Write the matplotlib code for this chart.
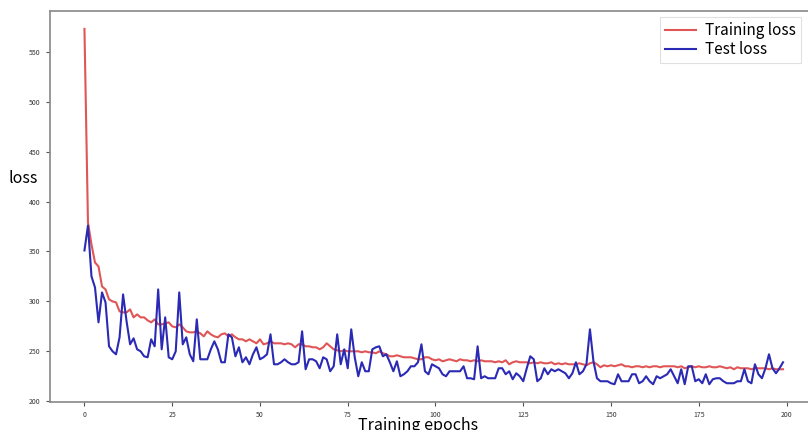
# -*- coding: utf-8 -*-
"""
Training / test loss over epochs
"""

import numpy as np
import matplotlib
matplotlib.use("Agg")
import matplotlib.pyplot as plt

plt.rcParams['font.family'] = ['Noto Sans CJK SC', 'DejaVu Sans']

epochs = np.arange(200)

train_loss = [
    573, 379, 357, 339, 335, 315, 312, 302, 300, 299,
    290, 289, 289, 292, 284, 287, 284, 284, 281, 279,
    282, 277, 277, 278, 279, 275, 274, 277, 274, 270,
    269, 269, 270, 268, 265, 270, 267, 265, 264, 267,
    268, 265, 267, 264, 262, 262, 260, 262, 260, 258,
    262, 257, 258, 260, 258, 258, 258, 257, 258, 257,
    254, 257, 257, 255, 255, 254, 254, 252, 254, 258,
    255, 252, 251, 250, 251, 250, 250, 250, 250, 249,
    250, 249, 249, 248, 250, 248, 247, 245, 245, 246,
    245, 244, 244, 244, 243, 242, 242, 244, 244, 242,
    241, 242, 240, 241, 242, 241, 240, 242, 241, 241,
    240, 241, 240, 241, 240, 240, 240, 239, 240, 239,
    241, 237, 239, 240, 239, 239, 239, 238, 239, 238,
    239, 238, 238, 239, 237, 238, 237, 238, 237, 237,
    237, 238, 237, 236, 238, 239, 237, 234, 236, 235,
    236, 235, 236, 237, 235, 235, 234, 235, 235, 234,
    235, 234, 235, 235, 234, 235, 235, 235, 235, 234,
    235, 233, 234, 235, 234, 235, 234, 234, 235, 234,
    234, 235, 234, 233, 234, 232, 234, 233, 233, 233,
    232, 233, 233, 233, 233, 232, 233, 232, 232, 232,
]

test_loss = [
    351, 376, 325, 314, 279, 309, 299, 255, 250, 247,
    264, 307, 280, 257, 263, 252, 250, 245, 244, 262,
    255, 312, 252, 284, 244, 242, 250, 309, 257, 264,
    247, 240, 282, 242, 242, 242, 252, 260, 252, 239,
    239, 267, 264, 245, 254, 239, 244, 237, 247, 254,
    242, 244, 247, 267, 237, 237, 239, 242, 239, 237,
    237, 239, 270, 232, 242, 242, 240, 233, 244, 242,
    230, 235, 267, 237, 252, 233, 272, 244, 225, 239,
    230, 230, 252, 254, 255, 245, 247, 239, 230, 240,
    225, 227, 230, 235, 235, 239, 257, 230, 227, 237,
    235, 233, 227, 225, 230, 230, 230, 230, 235, 223,
    223, 222, 255, 223, 225, 223, 223, 223, 233, 233,
    227, 230, 222, 228, 225, 220, 233, 245, 242, 220,
    223, 233, 227, 232, 230, 232, 230, 228, 223, 228,
    239, 227, 230, 237, 272, 240, 223, 220, 220, 220,
    218, 217, 227, 220, 220, 220, 227, 227, 218, 220,
    225, 220, 217, 225, 223, 225, 227, 232, 225, 218,
    232, 217, 235, 235, 220, 222, 218, 227, 217, 222,
    223, 223, 220, 218, 218, 218, 220, 220, 232, 220,
    218, 237, 227, 223, 233, 247, 233, 228, 233, 239,
]

fig = plt.figure(figsize=(8.08, 4.3), dpi=100)
ax = fig.add_axes([0.0613, 0.0651, 0.951, 0.909])

ax.plot(epochs, train_loss, color='#e05555', lw=1.5, label='Training loss')
ax.plot(epochs, test_loss, color='#2a2ab5', lw=1.5, label='Test loss')

ax.set_xticks([0, 25, 50, 75, 100, 125, 150, 175, 200])
ax.set_yticks([200, 250, 300, 350, 400, 450, 500, 550])
ax.tick_params(labelsize=5, length=3, width=0.8, colors='#555555',
               labelcolor='#333333')
for s in ax.spines.values():
    s.set_color('#888888')
    s.set_linewidth(1.2)

ax.set_xlabel('Training epochs', fontsize=11.5, va='center')
ax.xaxis.set_label_coords(0.48, -0.06)
ax.set_ylabel('loss', fontsize=11.5, rotation=0, ha='center', va='center')
ax.yaxis.set_label_coords(-0.034, 0.573)

leg = ax.legend(loc='upper left', bbox_to_anchor=(660 / 808, 1 - 17 / 430),
                bbox_transform=fig.transFigure, fontsize=11, handlelength=2.0,
                handletextpad=0.6, labelspacing=0.1, borderpad=0.35,
                borderaxespad=0.0, fancybox=False,
                framealpha=1.0, edgecolor='#e0e0e0')
leg.get_frame().set_linewidth(0.8)

plt.savefig('out.png', dpi=100)
